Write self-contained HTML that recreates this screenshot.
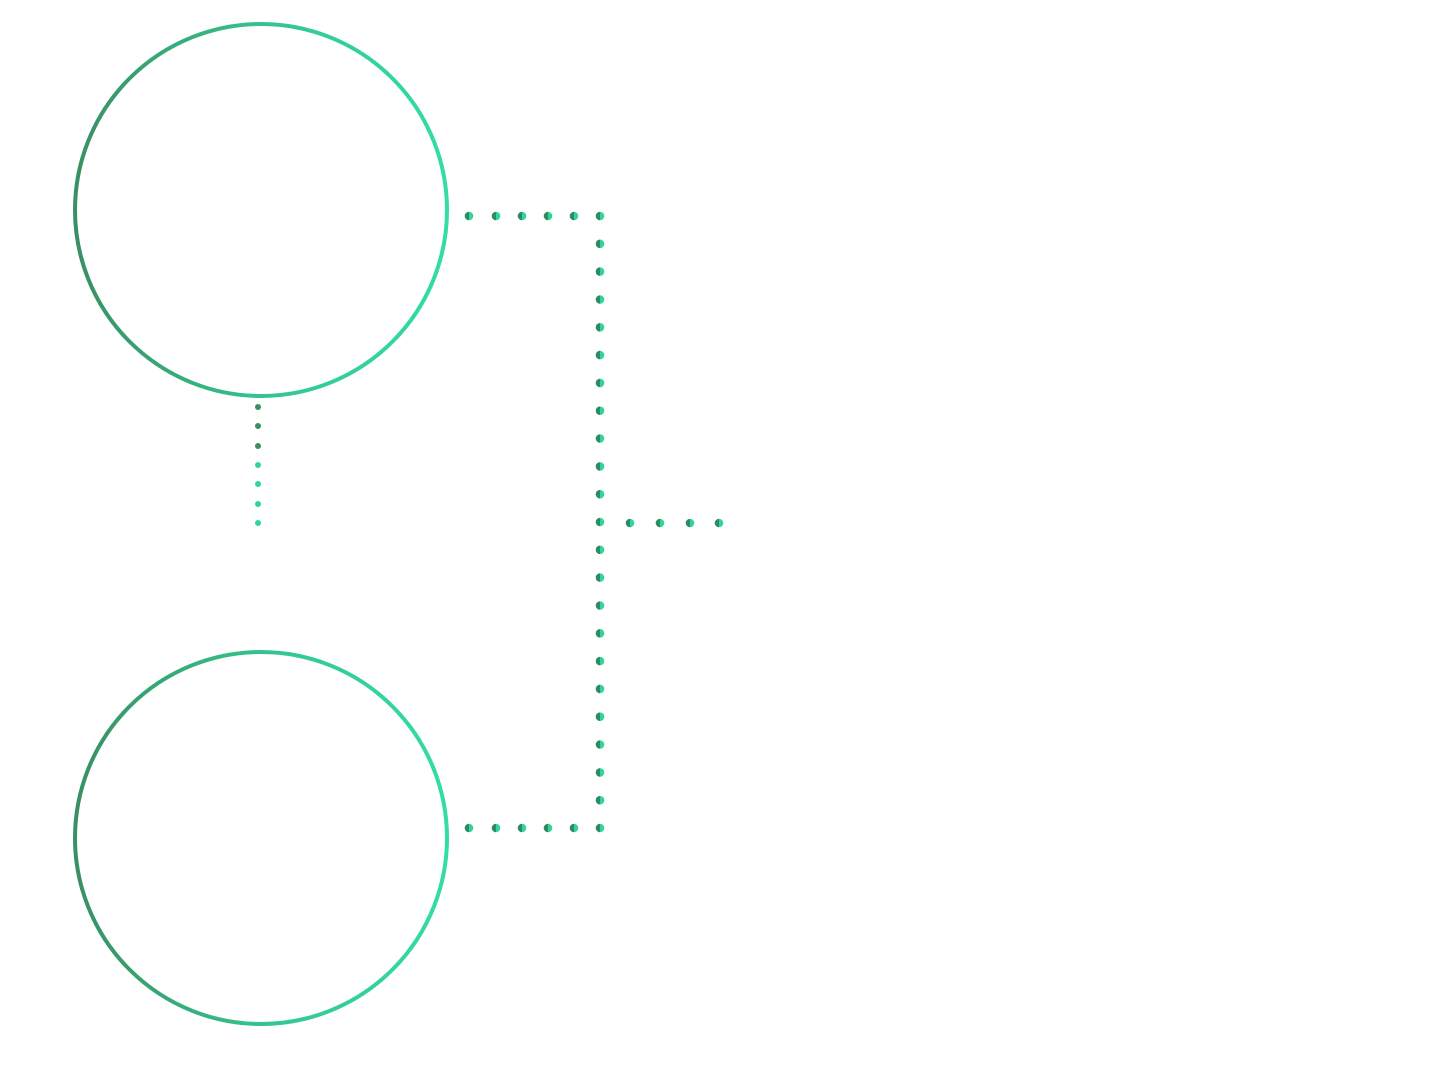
<!DOCTYPE html>
<html><head><meta charset="utf-8"><style>html,body{margin:0;padding:0;background:#fff;}svg{display:block}</style></head>
<body>
<svg width="1447" height="1072" viewBox="0 0 1447 1072" xmlns="http://www.w3.org/2000/svg">
<defs>
<linearGradient id="g" x1="0" y1="0" x2="1" y2="0">
<stop offset="0" stop-color="#3a8f63"/><stop offset="0.5" stop-color="#34c48e"/><stop offset="1" stop-color="#33dda3"/>
</linearGradient>
<linearGradient id="d" x1="0" y1="0" x2="1" y2="0">
<stop offset="0.5" stop-color="#2f8a5f"/><stop offset="0.5" stop-color="#33d39c"/>
</linearGradient>
</defs>
<circle cx="261" cy="210" r="186" fill="none" stroke="url(#g)" stroke-width="4"/>
<circle cx="261" cy="838" r="186" fill="none" stroke="url(#g)" stroke-width="4"/>
<g fill="url(#d)">
<circle cx="469" cy="216" r="4.3"/><circle cx="496" cy="216" r="4.3"/><circle cx="522" cy="216" r="4.3"/><circle cx="548" cy="216" r="4.3"/><circle cx="574" cy="216" r="4.3"/>
<circle cx="469" cy="828" r="4.3"/><circle cx="496" cy="828" r="4.3"/><circle cx="522" cy="828" r="4.3"/><circle cx="548" cy="828" r="4.3"/><circle cx="574" cy="828" r="4.3"/>
<circle cx="630" cy="523" r="4.3"/><circle cx="660" cy="523" r="4.3"/><circle cx="690" cy="523" r="4.3"/><circle cx="719" cy="523" r="4.3"/>
</g>
<g fill="url(#d)" id="v"></g>
<g>
<circle cx="258" cy="407" r="3" fill="#3a8f63"/><circle cx="258" cy="426" r="3" fill="#3a8f63"/><circle cx="258" cy="446" r="3" fill="#3a8f63"/>
<circle cx="258" cy="465" r="3" fill="#33d39c"/><circle cx="258" cy="484" r="3" fill="#33d39c"/><circle cx="258" cy="504" r="3" fill="#33d39c"/><circle cx="258" cy="523" r="3" fill="#33d39c"/>
</g>
<g fill="url(#d)">
<circle cx="600" cy="216" r="4.3"/><circle cx="600" cy="243.8" r="4.3"/><circle cx="600" cy="271.6" r="4.3"/><circle cx="600" cy="299.5" r="4.3"/><circle cx="600" cy="327.3" r="4.3"/><circle cx="600" cy="355.1" r="4.3"/><circle cx="600" cy="382.9" r="4.3"/><circle cx="600" cy="410.7" r="4.3"/><circle cx="600" cy="438.5" r="4.3"/><circle cx="600" cy="466.4" r="4.3"/><circle cx="600" cy="494.2" r="4.3"/><circle cx="600" cy="522" r="4.3"/><circle cx="600" cy="549.8" r="4.3"/><circle cx="600" cy="577.6" r="4.3"/><circle cx="600" cy="605.5" r="4.3"/><circle cx="600" cy="633.3" r="4.3"/><circle cx="600" cy="661.1" r="4.3"/><circle cx="600" cy="688.9" r="4.3"/><circle cx="600" cy="716.7" r="4.3"/><circle cx="600" cy="744.5" r="4.3"/><circle cx="600" cy="772.4" r="4.3"/><circle cx="600" cy="800.2" r="4.3"/><circle cx="600" cy="828" r="4.3"/>
</g>
</svg>
</body></html>
